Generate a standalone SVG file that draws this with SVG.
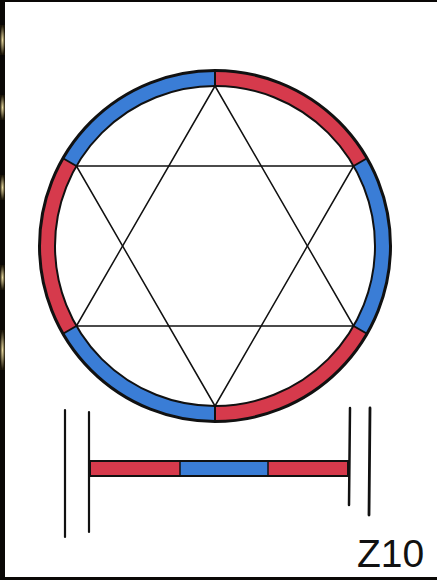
<svg xmlns="http://www.w3.org/2000/svg" width="437" height="580" viewBox="0 0 437 580">
<defs>
<style>
.seg{fill:none;stroke-width:15}
.red{stroke:#d63a4c}
.blue{stroke:#3a7dd6}
.ink{fill:none;stroke:#111;stroke-linecap:round}
.fr{fill:#d63a4c}
.fb{fill:#3a7dd6}
</style>
<radialGradient id="glow" cx="0.5" cy="0.5" r="0.5">
<stop offset="0" stop-color="#e8d9a0"/>
<stop offset="1" stop-color="#1a1408"/>
</radialGradient>
</defs>
<rect x="0" y="0" width="437" height="580" fill="#0a0806"/>
<rect x="0" y="25" width="5" height="30" fill="url(#glow)"/>
<rect x="0" y="95" width="5" height="25" fill="url(#glow)"/>
<rect x="0" y="175" width="5" height="25" fill="url(#glow)"/>
<rect x="0" y="265" width="5" height="25" fill="url(#glow)"/>
<rect x="0" y="330" width="5" height="40" fill="url(#glow)"/>
<rect x="5" y="2" width="432" height="575" fill="#ffffff"/>

<g id="ring">
<path class="seg red" d="M215,78.5 A167.5,167.5 0 0 1 360.1,162.25"/>
<path class="seg blue" d="M360.1,162.25 A167.5,167.5 0 0 1 360.1,329.75"/>
<path class="seg red" d="M360.1,329.75 A167.5,167.5 0 0 1 215,413.5"/>
<path class="seg blue" d="M215,413.5 A167.5,167.5 0 0 1 69.9,329.75"/>
<path class="seg red" d="M69.9,329.75 A167.5,167.5 0 0 1 69.9,162.25"/>
<path class="seg blue" d="M69.9,162.25 A167.5,167.5 0 0 1 215,78.5"/>
<circle class="ink" cx="215" cy="246" r="175.5" stroke-width="3"/>
<circle class="ink" cx="215" cy="246" r="160" stroke-width="2"/>
<g class="ink" stroke-width="2">
<line x1="215" y1="86" x2="215" y2="71"/>
<line x1="353.6" y1="166" x2="366.6" y2="158.5"/>
<line x1="353.6" y1="326" x2="366.6" y2="333.5"/>
<line x1="215" y1="406" x2="215" y2="421"/>
<line x1="76.4" y1="326" x2="63.4" y2="333.5"/>
<line x1="76.4" y1="166" x2="63.4" y2="158.5"/>
</g>
</g>

<g id="hexagram">
<polygon class="ink" stroke-width="1.5" stroke-linejoin="round" points="215,86 353.6,326 76.4,326"/>
<polygon class="ink" stroke-width="1.5" stroke-linejoin="round" points="215,406 76.4,166 353.6,166"/>
</g>

<g id="bar">
<rect class="fr" x="90" y="461" width="90" height="15"/>
<rect class="fb" x="180" y="461" width="88" height="15"/>
<rect class="fr" x="268" y="461" width="80" height="15"/>
<rect class="ink" x="90" y="461" width="258" height="15" stroke-width="2"/>
<line class="ink" x1="180" y1="461" x2="180" y2="476" stroke-width="1.5"/>
<line class="ink" x1="268" y1="461" x2="268" y2="476" stroke-width="1.5"/>
</g>

<g id="posts">
<line class="ink" x1="65" y1="410" x2="65" y2="537" stroke-width="2.2"/>
<line class="ink" x1="89" y1="412" x2="89" y2="532" stroke-width="2.2"/>
<line class="ink" x1="350" y1="408" x2="349" y2="505" stroke-width="2.5"/>
<line class="ink" x1="370" y1="408" x2="369" y2="515" stroke-width="2.8"/>
</g>

<text x="357" y="567" font-family="Liberation Sans, Arial, sans-serif" font-size="39" fill="#111">Z10</text>
</svg>
